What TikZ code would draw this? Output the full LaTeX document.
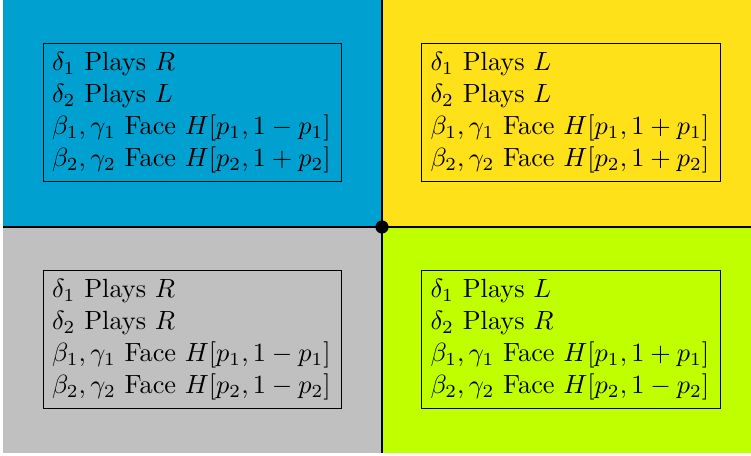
\documentclass[tikz,border=0pt]{standalone}
\definecolor{qcyan}{RGB}{0,160,208}
\definecolor{qyellow}{RGB}{255,225,25}
\definecolor{qgray}{RGB}{192,192,192}
\definecolor{qlime}{RGB}{191,255,0}
\begin{document}
\begin{tikzpicture}[x=0.38pt,y=-0.38pt,
  infobox/.style={draw=black,line width=0.38pt,minimum width=113.62pt,minimum height=52.44pt,
    text width=106.78pt,inner xsep=3.42pt,inner ysep=0pt,align=left,
    font=\fontsize{10}{12.16}\selectfont},
  divider/.style={line width=0.72pt,black}]
\useasboundingbox (0,0) rectangle (751,456);
\fill[white] (0,0) rectangle (751,456);
\fill[qcyan] (3,0) rectangle (382,227);
\fill[qyellow] (382,0) rectangle (751,227);
\fill[qgray] (3,227) rectangle (382,453);
\fill[qlime] (382,227) rectangle (751,453);
\coordinate (top) at (382,0);
\coordinate (bot) at (382,453);
\coordinate (lft) at (3,227);
\coordinate (rgt) at (751,227);
\draw[divider] (top) -- (bot);
\draw[divider] (lft) -- (rgt);
\node[circle,fill=black,inner sep=0pt,minimum size=5pt] (c) at (382,227) {};
\node[infobox] (tl) at (192.5,113) {$\delta_1$ Plays $R$\\ $\delta_2$ Plays $L$\\ $\beta_1,\gamma_1$ Face $H[p_1,1-p_1]$\\ $\beta_2,\gamma_2$ Face $H[p_2,1+p_2]$};
\node[infobox] (tr) at (571,113) {$\delta_1$ Plays $L$\\ $\delta_2$ Plays $L$\\ $\beta_1,\gamma_1$ Face $H[p_1,1+p_1]$\\ $\beta_2,\gamma_2$ Face $H[p_2,1+p_2]$};
\node[infobox] (bl) at (192.5,339.5) {$\delta_1$ Plays $R$\\ $\delta_2$ Plays $R$\\ $\beta_1,\gamma_1$ Face $H[p_1,1-p_1]$\\ $\beta_2,\gamma_2$ Face $H[p_2,1-p_2]$};
\node[infobox] (br) at (571,339.5) {$\delta_1$ Plays $L$\\ $\delta_2$ Plays $R$\\ $\beta_1,\gamma_1$ Face $H[p_1,1+p_1]$\\ $\beta_2,\gamma_2$ Face $H[p_2,1-p_2]$};
\end{tikzpicture}
\end{document}
